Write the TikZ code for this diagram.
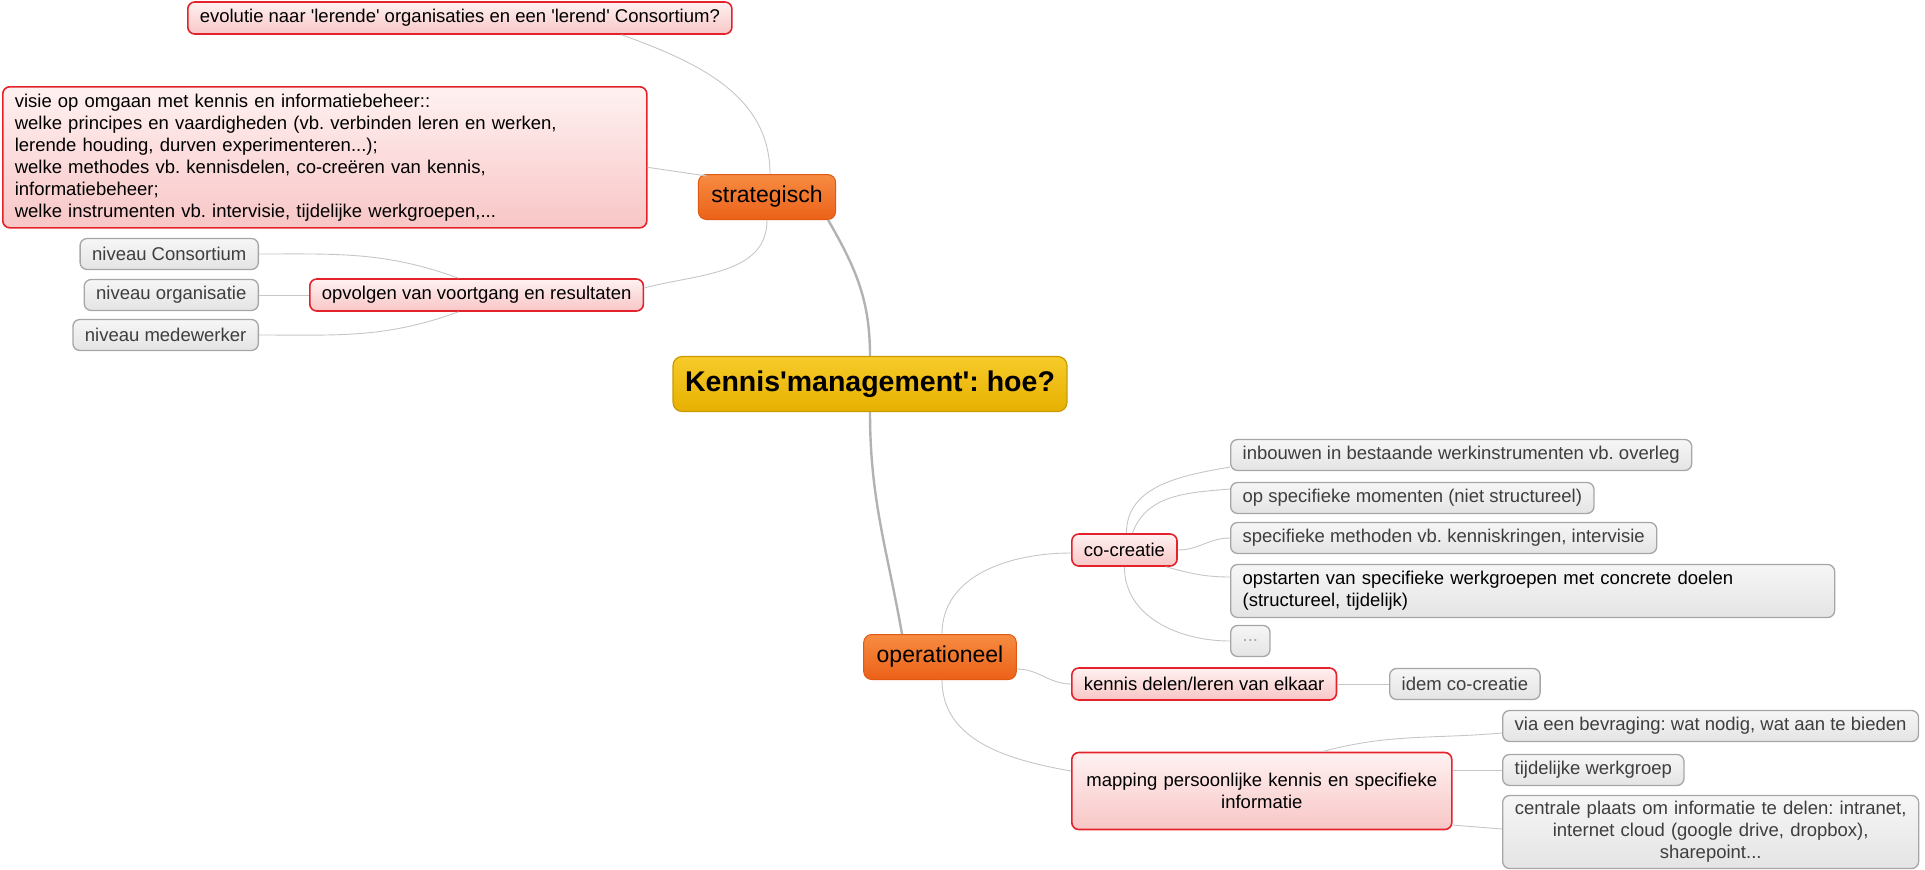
\documentclass[tikz,border=0pt]{standalone}
\usepackage{fontspec}
\setmainfont{Liberation Sans}[Ligatures=TeXOff]
\usepackage{xcolor}
\usepackage{tikz}
\frenchspacing
\definecolor{rootline}{HTML}{C99A00}
\definecolor{rootlight}{HTML}{F7CB2A}
\definecolor{rootfill}{HTML}{E6B000}
\definecolor{mainline}{HTML}{DE5A12}
\definecolor{mainlight}{HTML}{F68C42}
\definecolor{mainfill}{HTML}{EC6118}
\definecolor{subline}{HTML}{E4222B}
\definecolor{sublight}{HTML}{FFF1F1}
\definecolor{subfill}{HTML}{F8C6C6}
\definecolor{leafline}{HTML}{A6A6A6}
\definecolor{leaflight}{HTML}{F6F6F6}
\definecolor{leaffill}{HTML}{E4E4E4}
\definecolor{leaftext}{HTML}{3E3E3E}
\definecolor{linkgray}{HTML}{C6C6C6}
\definecolor{trunkgray}{HTML}{B2B2B2}
\tikzset{
  rootbox/.style={draw=rootline, top color=rootlight, bottom color=rootfill, line width=1.2pt,
    rounded corners=9pt, inner xsep=12pt, minimum height=55pt, font=\fontsize{28.5}{32}\selectfont\bfseries},
  mainbox/.style={draw=mainline, top color=mainlight, bottom color=mainfill, line width=1pt,
    rounded corners=8pt, inner xsep=13pt, minimum height=45pt, font=\fontsize{23}{26}\selectfont},
  subbox/.style={draw=subline, top color=sublight, bottom color=subfill, line width=1.6pt,
    rounded corners=7pt, inner xsep=12pt, minimum height=32pt, font=\fontsize{18.5}{22}\selectfont},
  leafbox/.style={draw=leafline, top color=leaflight, bottom color=leaffill, line width=1.3pt,
    rounded corners=7pt, inner xsep=12pt, minimum height=31pt, text=leaftext, font=\fontsize{18.5}{22}\selectfont},
  link/.style={draw=linkgray, line width=0.9pt},
  trunk/.style={draw=trunkgray, line width=2.4pt}
}

\begin{document}
\begin{tikzpicture}[x=1pt,y=-1pt]
  \useasboundingbox (0,0) rectangle (1925,870);
  \node[rootbox] (root) at (870,384) {Kennis'management': hoe?};
  \node[mainbox] (strat) at (767,197) {strategisch};
  \node[mainbox] (oper) at (940,657) {operationeel};

  % strategisch side
  \node[subbox, anchor=west] (evol) at (187,18) {evolutie naar 'lerende' organisaties en een 'lerend' Consortium?};
  \node[subbox, anchor=north west, text width=620pt, align=left, minimum height=141pt] (visie) at (2,86)
    {visie op omgaan met kennis en informatiebeheer::\\
     welke principes en vaardigheden (vb. verbinden leren en werken,\\
     lerende houding, durven experimenteren...);\\
     welke methodes vb. kennisdelen, co-creëren van kennis,\\
     informatiebeheer;\\
     welke instrumenten vb. intervisie, tijdelijke werkgroepen,...};
  \node[subbox, anchor=west] (opv) at (309,295) {opvolgen van voortgang en resultaten};
  \node[leafbox, anchor=east] (nivc) at (259,254) {niveau Consortium};
  \node[leafbox, anchor=east] (nivo) at (259,295) {niveau organisatie};
  \node[leafbox, anchor=east] (nivm) at (259,335) {niveau medewerker};

  % operationeel side
  \node[subbox, anchor=west] (cocr) at (1071,550) {co-creatie};
  \node[leafbox, anchor=west] (inbouw) at (1230,455) {inbouwen in bestaande werkinstrumenten vb. overleg};
  \node[leafbox, anchor=west] (moment) at (1230,498) {op specifieke momenten (niet structureel)};
  \node[leafbox, anchor=west] (method) at (1230,538) {specifieke methoden vb. kenniskringen, intervisie};
  \node[leafbox, anchor=west, text=black, text width=580pt, align=left, minimum height=53pt] (opstart) at (1230,591)
    {opstarten van specifieke werkgroepen met concrete doelen\\(structureel, tijdelijk)};
  \node[leafbox, anchor=west, text=leafline] (dots) at (1230,641) {...};
  \node[subbox, anchor=west] (delen) at (1071,684) {kennis delen/leren van elkaar};
  \node[leafbox, anchor=west] (idem) at (1389,684) {idem co-creatie};
  \node[subbox, anchor=west, text width=356pt, align=center, minimum height=77pt] (mapping) at (1071,791)
    {mapping persoonlijke kennis en specifieke\\informatie};
  \node[leafbox, anchor=west] (bevraag) at (1502,726) {via een bevraging: wat nodig, wat aan te bieden};
  \node[leafbox, anchor=west] (werkgr) at (1502,770) {tijdelijke werkgroep};
  \node[leafbox, anchor=west, inner xsep=6pt, text width=404pt, align=center, minimum height=73pt] (plaats) at (1502,832)
    {centrale plaats om informatie te delen: intranet,\\internet cloud (google drive, dropbox),\\sharepoint...};

  % branches
  \draw[trunk] (root.north) to[out=90,in=-60] ([xshift=-8pt]strat.south east);
  \draw[trunk] (root.south) to[out=-90,in=100] ([xshift=-38pt]oper.north);
  \draw[link] ([xshift=-111pt]evol.south east) to[out=-20,in=90] ([xshift=3pt]strat.north);
  \draw[link] ([yshift=-10pt]visie.east) -- ([xshift=9pt,yshift=-2pt]strat.north west);
  \draw[link] (strat.south) to[out=-90,in=15] ([yshift=7pt]opv.east);
  \draw[link] (nivc.east) to[out=0,in=160] ([xshift=-18pt]opv.north);
  \draw[link] (nivo.east) -- (opv.west);
  \draw[link] (nivm.east) to[out=0,in=-160] ([xshift=-18pt]opv.south);
  \draw[link] ([xshift=2pt]oper.north) to[out=90,in=180] ([yshift=-3pt]cocr.west);
  \draw[link] ([yshift=-12pt]oper.east) to[out=0,in=180] (delen.west);
  \draw[link] ([xshift=2pt]oper.south) to[out=-90,in=170] ([yshift=20pt]mapping.west);
  \draw[link] ([xshift=2pt]cocr.north) to[out=90,in=190] ([yshift=-12pt]inbouw.west);
  \draw[link] ([xshift=8pt]cocr.north) to[out=70,in=185] ([yshift=9pt]moment.west);
  \draw[link] (cocr.east) to[out=0,in=180] (method.west);
  \draw[link] ([xshift=-12pt]cocr.south east) to[out=-15,in=180] ([yshift=14pt]opstart.west);
  \draw[link] (cocr.south) to[out=-90,in=180] (dots.west);
  \draw[link] (delen.east) -- (idem.west);
  \draw[link] ([xshift=60pt]mapping.north) to[out=15,in=185] ([yshift=-7pt]bevraag.west);
  \draw[link] ([yshift=21pt]mapping.east) -- (werkgr.west);
  \draw[link] ([yshift=-34pt]mapping.east) -- ([yshift=3pt]plaats.west);
\end{tikzpicture}
\end{document}
